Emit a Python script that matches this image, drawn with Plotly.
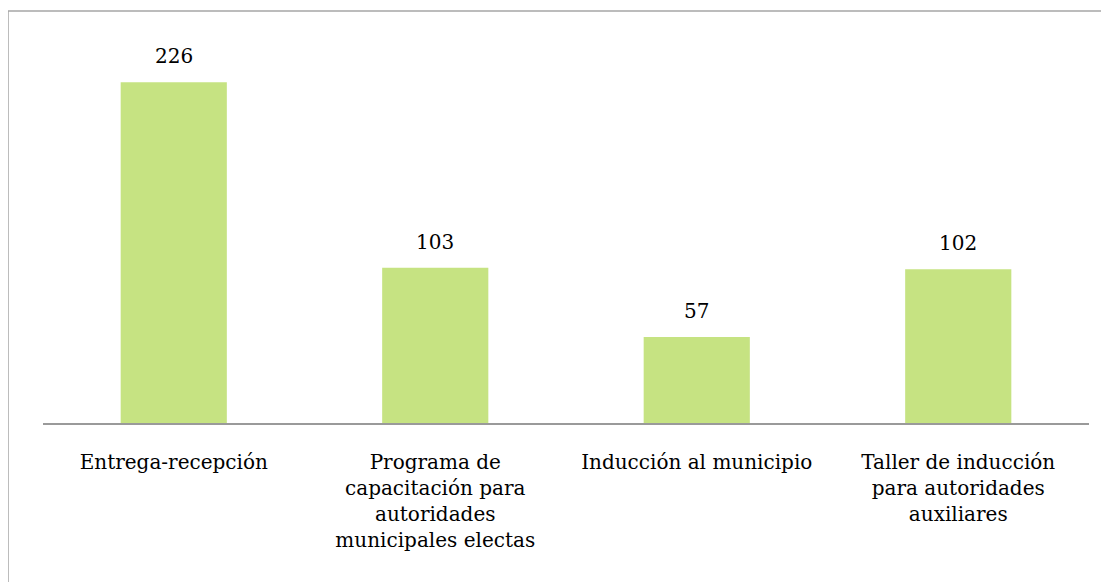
import plotly.graph_objects as go

categories = [
    "Entrega-recepción",
    "Programa de<br>capacitación para<br>autoridades<br>municipales electas",
    "Inducción al municipio",
    "Taller de inducción<br>para autoridades<br>auxiliares",
]
values = [226, 103, 57, 102]

# the page body adds an 8px offset, so the figure is sized to fill the rest
W, H = 1101, 574
ml, mr, mt, mb = 35, 20, 38, 159
pw = W - ml - mr
ph = H - mt - mb

FONT = "DejaVu Serif, Liberation Serif, serif"

fig = go.Figure()
fig.add_trace(go.Bar(
    x=categories, y=values,
    marker=dict(color="#C6E382", line=dict(width=0)),
    width=0.406,
    hoverinfo="x+y",
))

for c, v in zip(categories, values):
    fig.add_annotation(x=c, y=v, text=str(v), showarrow=False, yshift=26,
                       font=dict(family=FONT, size=20, color="#000"))

# outer frame (only top/left visible in the reference)
fig.add_shape(type="rect", xref="paper", yref="paper",
              x0=(0 - ml) / pw, x1=(W + 60 - ml) / pw,
              y0=-1, y1=(H - mb - 3) / ph,
              line=dict(color="#A6A6A6", width=1.5), fillcolor="rgba(0,0,0,0)", layer="below")

fig.update_layout(
    width=W, height=H,
    margin=dict(l=ml, r=mr, t=mt, b=mb, autoexpand=False),
    paper_bgcolor="white", plot_bgcolor="white",
    showlegend=False,
    font=dict(family=FONT, size=20, color="#000"),
    xaxis=dict(showline=True, linecolor="#9A9A9A", linewidth=2, ticks="outside",
               ticklen=20, tickcolor="rgba(0,0,0,0)", showgrid=False, fixedrange=True,
               tickfont=dict(family=FONT, size=20)),
    yaxis=dict(range=[0, 250], visible=False, showgrid=False, fixedrange=True),
)

fig.write_html("out.html")
